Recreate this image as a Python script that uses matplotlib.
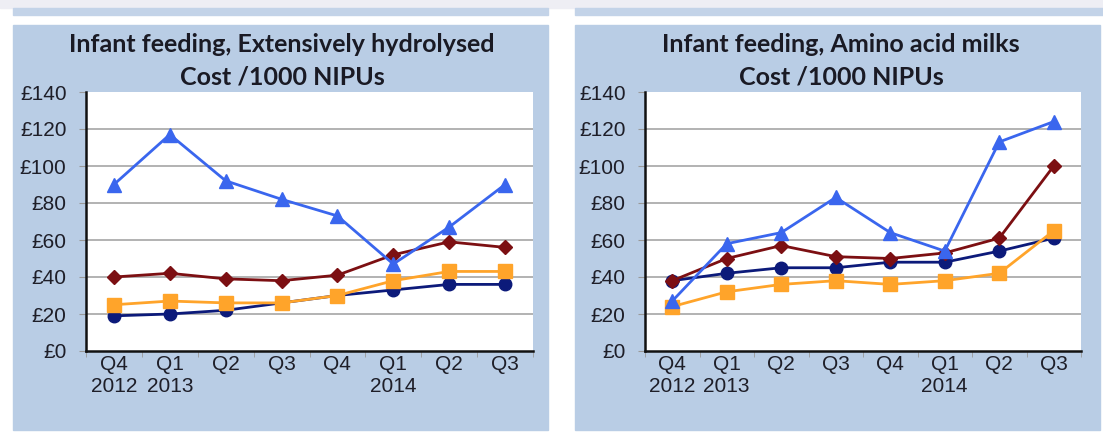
import matplotlib.pyplot as plt
from matplotlib.patches import Rectangle

W, H = 1103, 437

quarters = ["Q4\n2012", "Q1\n2013", "Q2", "Q3", "Q4", "Q1\n2014", "Q2", "Q3"]
yticks = [0, 20, 40, 60, 80, 100, 120, 140]

# extensively hydrolysed
eh_blue = [90, 117, 92, 82, 73, 47, 67, 90]
eh_red = [40, 42, 39, 38, 41, 52, 59, 56]
eh_orange = [25, 27, 26, 26, 30, 38, 43, 43]
eh_navy = [19, 20, 22, 26, 30, 33, 36, 36]

# amino acid milks
aa_blue = [27, 58, 64, 83, 64, 54, 113, 124]
aa_red = [38, 50, 57, 51, 50, 53, 61, 100]
aa_orange = [24, 32, 36, 38, 36, 38, 42, 65]
aa_navy = [38, 42, 45, 45, 48, 48, 54, 61]

panel_col = "#b9cde5"


def px_rect(x0, y0, x1, y1):
    return [x0 / W, 1 - y1 / H, (x1 - x0) / W, (y1 - y0) / H]


fig = plt.figure(figsize=(W / 100, H / 100), dpi=100)
fig.patch.set_facecolor("white")


def bg(x0, y0, x1, y1, col):
    fig.patches.append(Rectangle((x0 / W, 1 - y1 / H), (x1 - x0) / W, (y1 - y0) / H,
                                 transform=fig.transFigure, color=col, zorder=-10))


bg(0, 0, W, 8, "#eeeef4")
bg(13, 8, 548, 15, "#c3d3e8")
bg(575, 8, W, 15, "#c3d3e8")
bg(13, 25, 548, 430, panel_col)
bg(575, 25, 1100, 430, panel_col)


def draw(rect, title, title_x, blue, red, orange, navy):
    ax = fig.add_axes(px_rect(*rect))
    ax.set_facecolor("white")
    x = range(len(quarters))
    ax.plot(x, navy, color="#0c1a7a", lw=2, marker="o", ms=9, zorder=3)
    ax.plot(x, red, color="#7c0f12", lw=2, marker="D", ms=7, zorder=4)
    ax.plot(x, orange, color="#ffa42a", lw=2, marker="s", ms=10, zorder=5)
    ax.plot(x, blue, color="#3a66ee", lw=2, marker="^", ms=9.5, zorder=6)
    ax.set_xlim(-0.5, 7.5)
    ax.set_ylim(0, 140)
    ax.set_yticks(yticks)
    ax.set_yticklabels(["£%d" % v for v in yticks], fontsize=15, family="Liberation Sans",
                       color="#1e1e28")
    ax.set_xticks(list(x))
    ax.set_xticklabels(quarters, fontsize=15, family="Liberation Sans", color="#1e1e28",
                       linespacing=1.2)
    ax.set_xticks([i - 0.5 for i in range(9)], minor=True)
    ax.tick_params(axis="x", which="major", length=0, pad=3)
    ax.tick_params(axis="x", which="minor", length=4, color="#999999")
    ax.tick_params(axis="y", length=5, color="#999999", pad=9)
    ax.grid(axis="y", color="#a6a6a6", lw=1.2)
    gl = ax.get_ygridlines()
    gl[0].set_visible(False)
    gl[-1].set_visible(False)
    ax.set_axisbelow(True)
    for s in ["top", "right"]:
        ax.spines[s].set_visible(False)
    for s in ["left", "bottom"]:
        ax.spines[s].set_color("#111111")
        ax.spines[s].set_linewidth(1.8)
    fig.text(title_x / W, 1 - 44 / H, title, ha="center", va="center",
             fontsize=18, fontweight="bold", family="Lato", color="#1a1a24")
    fig.text(title_x / W, 1 - 77 / H, "Cost /1000 NIPUs", ha="center", va="center",
             fontsize=18, fontweight="bold", family="Lato", color="#1a1a24")


draw((86, 92, 533, 351), "Infant feeding, Extensively hydrolysed", 282,
     eh_blue, eh_red, eh_orange, eh_navy)
draw((645, 92, 1081, 351), "Infant feeding, Amino acid milks", 841,
     aa_blue, aa_red, aa_orange, aa_navy)

fig.savefig("out.png", dpi=100, facecolor=fig.get_facecolor())
